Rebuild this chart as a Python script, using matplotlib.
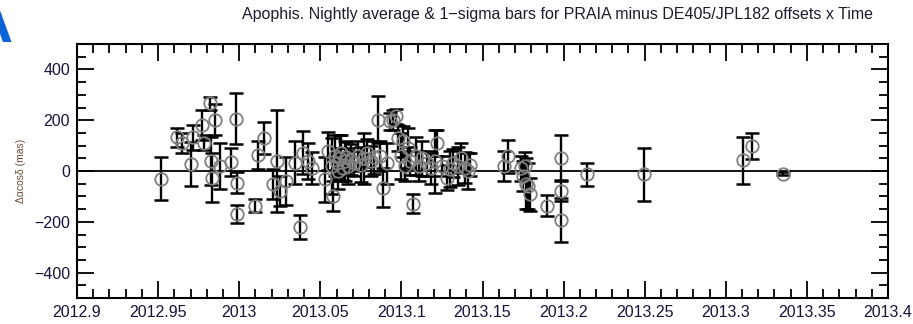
import numpy as np
import matplotlib.pyplot as plt
from matplotlib.ticker import MultipleLocator

# ------------------------------
# Data (time in years, offset and 1-sigma in mas)
# ------------------------------
epoch = [2012.952, 2012.9615, 2012.9645, 2012.9705, 2012.9715, 2012.977, 2012.978,
         2012.982, 2012.9825, 2012.9835, 2012.985, 2012.988, 2012.995, 2012.998,
         2012.9985, 2012.9985, 2013.0097, 2013.0118, 2013.0153, 2013.021, 2013.0235,
         2013.025, 2013.029, 2013.0344, 2013.0375, 2013.0395, 2013.0426, 2013.0447,
         2013.0529, 2013.055, 2013.057, 2013.058, 2013.059, 2013.060, 2013.061,
         2013.062, 2013.063, 2013.064, 2013.065, 2013.066, 2013.067, 2013.069,
         2013.071, 2013.073, 2013.075, 2013.077, 2013.079, 2013.081, 2013.083,
         2013.0858, 2013.0865, 2013.0889, 2013.091, 2013.093, 2013.095, 2013.0965,
         2013.098, 2013.100, 2013.1012, 2013.102, 2013.104, 2013.105, 2013.1074,
         2013.109, 2013.111, 2013.113, 2013.116, 2013.118, 2013.1207, 2013.122,
         2013.125, 2013.128, 2013.130, 2013.132, 2013.135, 2013.137, 2013.139,
         2013.141, 2013.142, 2013.163, 2013.166, 2013.1735, 2013.175, 2013.176,
         2013.177, 2013.178, 2013.179, 2013.190, 2013.1982, 2013.1982, 2013.1982,
         2013.2147, 2013.2498, 2013.3108, 2013.316, 2013.335]
offset = [-30, 133, 110, 27, 133, 182, 111,
          267, 39, -26, 202, 20, 35, 206,
          -46, -169, -137, 62, 130, -52, 40,
          -78, -39, 33, -221, 72, 39, 13,
          -33, 78, 20, -98, 60, 30, 0,
          50, 70, 10, 40, 55, 20, 45,
          30, 60, 25, 50, 70, 40, 55,
          202, 60, -65, 30, 195, 202, 215,
          130, 60, 117, 20, 90, 40, -128,
          60, 20, 50, 30, 10, 39, 111,
          20, -26, 8, 30, 20, 52, 13,
          0, 25, 20, 59, 10, -20, 20,
          -50, -59, -91, -137, 52, -78, -193,
          -13, -13, 42, 98, -10]
sigma = [85, 38, 40, 88, 50, 60, 30,
         25, 95, 95, 60, 90, 55, 100,
         42, 37, 26, 55, 62, 60, 200,
         60, 95, 84, 48, 84, 72, 63,
         90, 75, 110, 58, 80, 60, 70,
         90, 70, 45, 80, 60, 70, 60,
         50, 60, 70, 100, 55, 60, 65,
         92, 60, 75, 80, 35, 40, 30,
         50, 90, 60, 60, 80, 55, 36,
         75, 60, 70, 50, 60, 124, 50,
         40, 50, 70, 55, 75, 58, 60,
         70, 45, 60, 65, 50, 60, 55,
         100, 90, 65, 42, 89, 40, 87,
         45, 105, 92, 52, 6]

xtick_labels = ['2012.9', '2012.95', '2013', '2013.05', '2013.1', '2013.15',
                '2013.2', '2013.25', '2013.3', '2013.35', '2013.4']

# ------------------------------
# Plot
# ------------------------------
plt.rcParams['font.family'] = ['Liberation Sans', 'DejaVu Sans']

fig = plt.figure(figsize=(9.13, 3.24), dpi=100)
ax = fig.add_axes([77 / 913, 1 - 298 / 324, 811 / 913, 254 / 324])

ax.axhline(0, color='black', lw=1.3, zorder=1)
ax.errorbar(epoch, offset, yerr=sigma, fmt='none', ecolor='black',
            elinewidth=1.7, capsize=5, capthick=1.8, zorder=2)
ax.plot(epoch, offset, 'o', mfc='none', mec='#7f7f7f', mew=1.3, ms=9, zorder=3)

ax.set_xlim(2012.9, 2013.4)
ax.set_ylim(-500, 500)
ax.xaxis.set_minor_locator(MultipleLocator(0.01))
ax.yaxis.set_major_locator(MultipleLocator(200))
ax.yaxis.set_minor_locator(MultipleLocator(50))
ax.set_xticks(np.linspace(2012.9, 2013.4, len(xtick_labels)))
ax.set_xticklabels(xtick_labels)
ax.tick_params(which='both', direction='in', top=True, right=True,
               width=1.3, colors='black', labelcolor='#14143a', labelsize=11.5)
ax.tick_params(which='major', length=12, pad=5)
ax.tick_params(which='minor', length=6.5)
for s in ax.spines.values():
    s.set_linewidth(1.5)

ax.set_ylabel('Δαcosδ (mas)', fontsize=7.5, color='#6b4a35', labelpad=6)
fig.text(557 / 913, 1 - 15 / 324,
         'Apophis. Nightly average & 1\u2212sigma bars for PRAIA minus DE405/JPL182 offsets x Time',
         ha='center', va='center', fontsize=11.5, color='#1c1c2c')

# big blue panel letter, cut by the top-left corner as in the reference
fig.text(13 / 913, 1 - 42 / 324, 'A', ha='right', va='baseline',
         fontsize=44, fontweight='bold', color='#0b63d6')

fig.savefig('out.png', dpi=100)
